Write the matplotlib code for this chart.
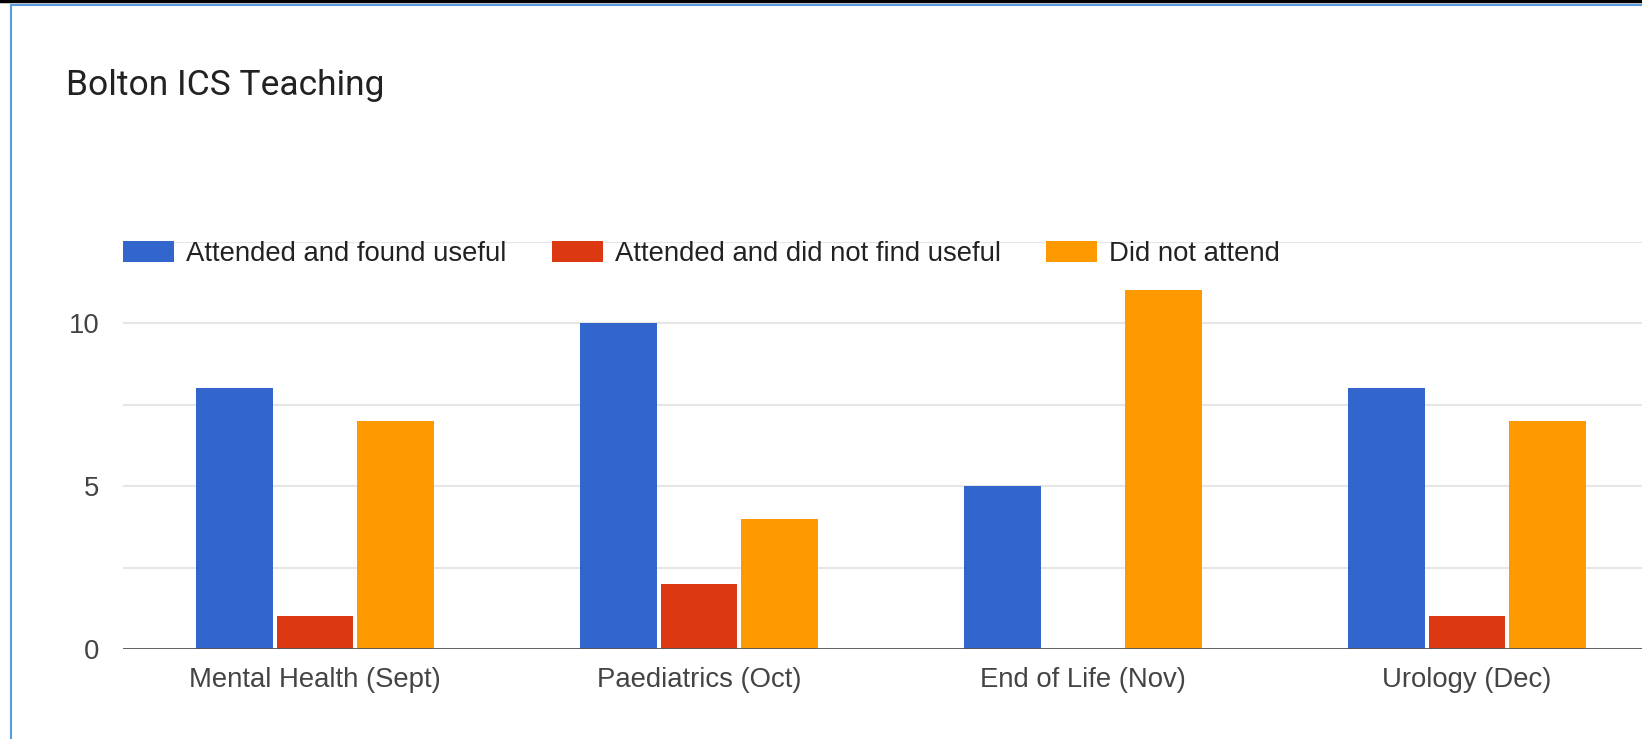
import numpy as np
import matplotlib
matplotlib.use('Agg')
import matplotlib.pyplot as plt
from matplotlib.lines import Line2D

# data
categories = ['Mental Health (Sept)', 'Paediatrics (Oct)', 'End of Life (Nov)', 'Urology (Dec)']
series_names = ['Attended and found useful', 'Attended and did not find useful', 'Did not attend']
useful = [8, 10, 5, 8]
not_useful = [1, 2, 0, 1]
not_attended = [7, 4, 11, 7]
colors = ['#3366CC', '#DC3912', '#FF9900']

plt.rcParams['font.family'] = ['Liberation Sans', 'DejaVu Sans']

W, H = 1642, 739
fig = plt.figure(figsize=(W / 100, H / 100), dpi=100)
# plot area in pixels: left 123, top 241.5, bottom 649
ax = fig.add_axes([123 / W, 1 - 649 / H, 1 - 123 / W, (649 - 241.5) / H])

x = np.arange(len(categories))
offsets = [-0.21, 0, 0.21]
for vals, off, col, name in zip([useful, not_useful, not_attended], offsets, colors, series_names):
    ax.bar(x + off, vals, width=0.2, color=col, label=name, zorder=3)

ax.set_xlim(-0.5, (W - 123) / 384 - 0.5)
ax.set_ylim(0, 12.5)
ax.set_yticks([0, 5, 10])
ax.set_yticks([2.5, 7.5, 12.5], minor=True)
ax.grid(axis='y', which='both', color='#e6e6e6', linewidth=1.5, zorder=0)
ax.axhline(0, color='#555555', linewidth=2, zorder=4)
ax.set_xticks(x)
ax.set_xticklabels(categories)
ax.tick_params(axis='both', which='both', length=0, labelsize=19.8, labelcolor='#444444')
ax.tick_params(axis='x', pad=13)
ax.tick_params(axis='y', pad=17)
for s in ax.spines.values():
    s.set_visible(False)

leg = ax.legend(ncol=3, loc='center left', bbox_to_anchor=(0.0, 1 - 12.5 / 407.5),
                frameon=False, fontsize=19.8, handlelength=1.85, handleheight=0.8,
                columnspacing=1.65, handletextpad=0.44, borderaxespad=0, borderpad=0)
for t in leg.get_texts():
    t.set_color('#222222')

fig.text(66 / W, 1 - 86 / H, 'Bolton ICS Teaching', fontsize=25.5, family='Roboto',
         color='#222222', va='center', ha='left')

# frame lines of the screenshot
fig.add_artist(Line2D([0, 1], [1 - 1 / H, 1 - 1 / H], color='black', linewidth=2.5, transform=fig.transFigure))
fig.add_artist(Line2D([11 / W, 1], [1 - 4.5 / H, 1 - 4.5 / H], color='#5a9be0', linewidth=1.5, transform=fig.transFigure))
fig.add_artist(Line2D([11 / W, 11 / W], [0, 1 - 4.5 / H], color='#5a9be0', linewidth=1.5, transform=fig.transFigure))

fig.savefig('out.png', dpi=100)
